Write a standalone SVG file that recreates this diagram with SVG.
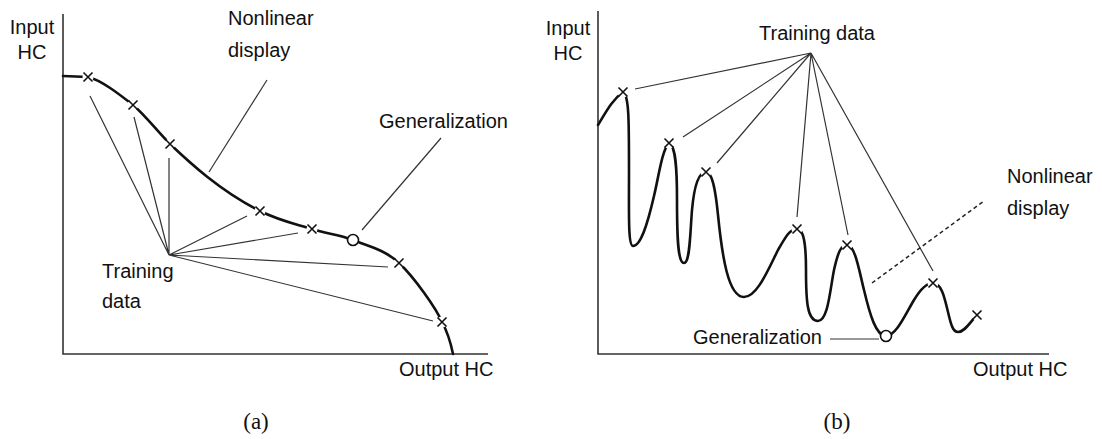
<svg xmlns="http://www.w3.org/2000/svg" width="1102" height="439" viewBox="0 0 1102 439">
  <style>
    .lbl { font-family: "Liberation Sans", Arial, sans-serif; font-size: 20px; fill: #111; }
    .cap { font-family: "Liberation Serif", "Times New Roman", serif; font-size: 23px; fill: #111; text-anchor: middle; }
    .axis { fill: none; stroke: #333; stroke-width: 1.6; }
    .curve { fill: none; stroke: #111; stroke-width: 2.6; stroke-linecap: round; stroke-linejoin: round; }
    .lead { fill: none; stroke: #333; stroke-width: 1.2; }
    .dash { fill: none; stroke: #222; stroke-width: 1.5; stroke-dasharray: 4 3; }
    .gap { fill: #fff; }
    .mark { fill: none; stroke: #111; stroke-width: 1.6; }
    .ring { fill: #fff; stroke: #111; stroke-width: 1.6; }
  </style>
  <defs>
    <g id="cross">
      <circle class="gap" r="5.5"/>
      <path class="mark" d="M-4.5,-4.5 L4.5,4.5 M-4.5,4.5 L4.5,-4.5"/>
    </g>
  </defs>
  <rect width="1102" height="439" fill="#fff"/>

  <!-- Panel (a): smooth nonlinear response -->
  <g id="panel-a">
    <g id="axes-a">
      <path class="axis" d="M63,14 L63,354 L488,354"/>
    </g>
    <g id="connectors-a">
      <path class="lead" d="M169,255 L90,96 M169,255 L134,117 M169,255 L169,158 M169,255 L247,216 M169,255 L298,233 M169,255 L388,267 M169,255 L433,321"/>
      <path class="lead" d="M267,80 L209,172"/>
      <path class="lead" d="M441,138 L362,230"/>
    </g>
    <g id="curve-a">
      <path class="curve" d="M63,76 L88,77 C101,80 119,94 133,105 C145,115 157,131 170,144 C189,162 220,191 260,211 C280,221 296,224 312,229 C327,234 338,234 353,240 C367,246 384,249 399,263 C414,277 436,308 442,322 C448,333 451,344 453,354"/>
    </g>
    <g id="points-a">
      <use href="#cross" x="88" y="77"/>
      <use href="#cross" x="133" y="105"/>
      <use href="#cross" x="170" y="144"/>
      <use href="#cross" x="260" y="211"/>
      <use href="#cross" x="312" y="229"/>
      <circle class="ring" cx="353" cy="240" r="5.5"/>
      <use href="#cross" x="399" y="263"/>
      <use href="#cross" x="442" y="322"/>
    </g>
    <g id="labels-a">
      <text class="lbl" x="32" y="34" text-anchor="middle">Input</text>
      <text class="lbl" x="32" y="59" text-anchor="middle">HC</text>
      <text class="lbl" x="228" y="25">Nonlinear</text>
      <text class="lbl" x="228" y="57">display</text>
      <text class="lbl" x="379" y="128">Generalization</text>
      <text class="lbl" x="102" y="278">Training</text>
      <text class="lbl" x="102" y="308">data</text>
      <text class="lbl" x="399" y="376">Output HC</text>
      <text class="cap" x="256" y="429">(a)</text>
    </g>
  </g>

  <!-- Panel (b): oscillating over-fitted response -->
  <g id="panel-b">
    <g id="axes-b">
      <path class="axis" d="M598,11 L598,354 L1049,354"/>
    </g>
    <g id="connectors-b">
      <path class="lead" d="M811,53 L635,89 M811,53 L683,137 M811,53 L717,163 M811,53 L797,217 M811,53 L848,235 M811,53 L933,271"/>
      <path class="dash" d="M872,283 L984,201"/>
      <path class="lead" d="M830,339 L879,339"/>
    </g>
    <g id="curve-b">
      <path class="curve" d="M598,125 C606,112 612,100 623,92 C629,95 629,120 629,170 C629,215 628,246 633,246 C641,246 648,222 654,196 C659,175 662,150 669,143 C676,146 677,170 677,200 C677,240 678,263 684,263 C690,263 690,235 692,210 C694,188 698,172 706,172 C713,172 716,195 718,215 C722,255 728,297 744,297 C757,297 768,270 778,250 C786,236 790,229 797,229 C804,229 806,245 806,270 C806,300 807,321 818,321 C828,321 830,290 834,270 C838,252 841,245 847,245 C855,245 859,270 864,290 C870,315 876,336 886,336 C896,336 905,315 914,300 C920,290 926,283 933,283 C942,283 945,300 948,312 C951,325 953,332 958,332 C965,332 970,322 977,315"/>
    </g>
    <g id="points-b">
      <use href="#cross" x="623" y="92"/>
      <use href="#cross" x="669" y="143"/>
      <use href="#cross" x="706" y="172"/>
      <use href="#cross" x="797" y="229"/>
      <use href="#cross" x="847" y="245"/>
      <circle class="ring" cx="886" cy="336" r="5.5"/>
      <use href="#cross" x="933" y="283"/>
      <use href="#cross" x="977" y="315"/>
    </g>
    <g id="labels-b">
      <text class="lbl" x="568" y="35" text-anchor="middle">Input</text>
      <text class="lbl" x="568" y="60" text-anchor="middle">HC</text>
      <text class="lbl" x="759" y="40">Training data</text>
      <text class="lbl" x="1007" y="183">Nonlinear</text>
      <text class="lbl" x="1007" y="215">display</text>
      <text class="lbl" x="693" y="344">Generalization</text>
      <text class="lbl" x="973" y="376">Output HC</text>
      <text class="cap" x="837" y="429">(b)</text>
    </g>
  </g>
</svg>
